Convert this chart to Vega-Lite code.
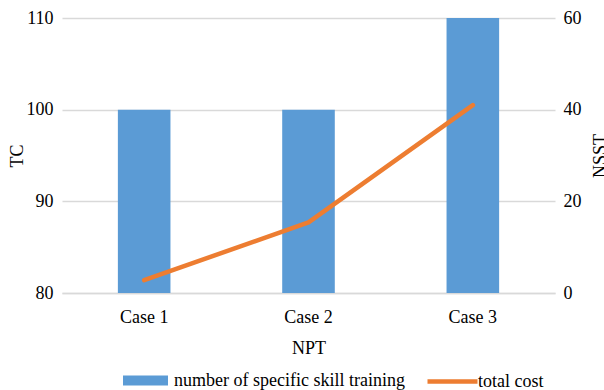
{
  "$schema": "https://vega.github.io/schema/vega-lite/v6.json",
  "width": 493,
  "height": 275,
  "autosize": {"type": "none"},
  "padding": {"left": 62, "top": 18, "right": 49, "bottom": 97},
  "background": "white",
  "config": {
    "font": "Liberation Serif",
    "view": {"stroke": null},
    "axis": {
      "labelFont": "Liberation Serif",
      "titleFont": "Liberation Serif",
      "labelFontSize": 18,
      "titleFontSize": 18,
      "labelColor": "#000000",
      "titleColor": "#000000",
      "titleFontWeight": "normal",
      "ticks": false,
      "domain": false,
      "gridColor": "#d9d9d9",
      "gridWidth": 1.3
    },
    "legend": {
      "labelFont": "Liberation Serif",
      "labelFontSize": 18,
      "labelColor": "#000000",
      "labelLimit": 400,
      "orient": "none",
      "direction": "horizontal",
      "title": null
    }
  },
  "data": {
    "values": [
      {"npt": "Case 1", "nsst": 40, "tc": 81.4, "bar_series": "number of specific skill training", "line_series": "total cost"},
      {"npt": "Case 2", "nsst": 40, "tc": 87.7, "bar_series": "number of specific skill training", "line_series": "total cost"},
      {"npt": "Case 3", "nsst": 60, "tc": 100.5, "bar_series": "number of specific skill training", "line_series": "total cost"}
    ]
  },
  "encoding": {
    "x": {
      "field": "npt",
      "type": "nominal",
      "title": "NPT",
      "scale": {"paddingInner": 0.68, "paddingOuter": 0.34},
      "axis": {
        "labelAngle": 0,
        "labelPadding": 15,
        "titlePadding": 13,
        "grid": false,
        "domain": true,
        "domainColor": "#d9d9d9",
        "domainWidth": 1.3
      }
    }
  },
  "layer": [
    {
      "mark": {"type": "bar", "color": "#5B9BD5"},
      "encoding": {
        "y": {
          "field": "nsst",
          "type": "quantitative",
          "title": "NSST",
          "scale": {"domain": [0, 60], "nice": false},
          "axis": {
            "orient": "right",
            "values": [0, 20, 40, 60],
            "labelPadding": 8,
            "titleAngle": 270,
            "titlePadding": 28,
            "grid": true
          }
        },
        "color": {
          "field": "bar_series",
          "type": "nominal",
          "scale": {"range": ["#5B9BD5"]},
          "legend": {
            "legendX": 61,
            "legendY": 340,
            "symbolType": "M-1,-0.22H1V0.22H-1Z",
            "symbolSize": 2025,
            "symbolStrokeWidth": 0,
            "symbolOpacity": 1,
            "labelOffset": 6
          }
        }
      }
    },
    {
      "mark": {"type": "line", "strokeWidth": 4.5, "strokeCap": "round", "strokeJoin": "round"},
      "encoding": {
        "y": {
          "field": "tc",
          "type": "quantitative",
          "title": "TC",
          "scale": {"domain": [80, 110], "nice": false},
          "axis": {
            "orient": "left",
            "values": [80, 90, 100, 110],
            "labelPadding": 9,
            "titlePadding": 0,
            "grid": false
          }
        },
        "stroke": {
          "field": "line_series",
          "type": "nominal",
          "scale": {"range": ["#ED7D31"]},
          "legend": {
            "legendX": 363,
            "legendY": 336,
            "symbolType": "stroke",
            "symbolSize": 2500,
            "symbolStrokeWidth": 4.5,
            "labelOffset": -2
          }
        }
      }
    }
  ],
  "resolve": {"scale": {"y": "independent", "color": "independent"}}
}
